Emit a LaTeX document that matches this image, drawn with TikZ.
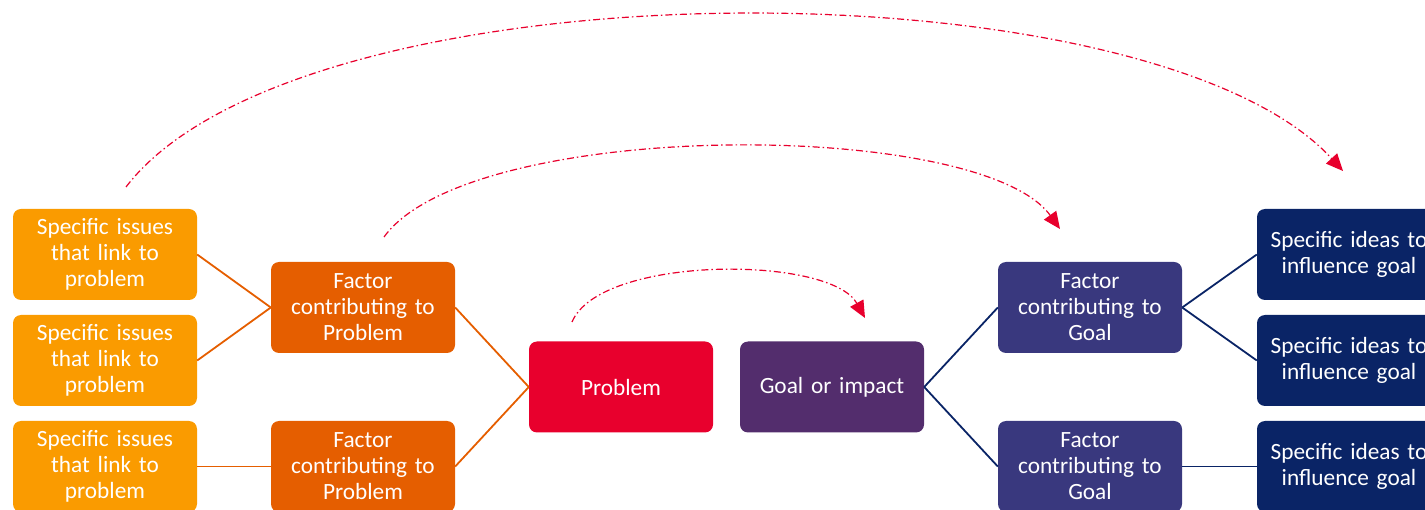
\documentclass[tikz,border=0pt]{standalone}
\usepackage{fontspec}
\setmainfont{Carlito}
\usetikzlibrary{arrows.meta}

\definecolor{issueorange}{RGB}{250,155,0}
\definecolor{factororange}{RGB}{229,94,0}
\definecolor{problemred}{RGB}{232,0,45}
\definecolor{goalpurple}{RGB}{83,45,109}
\definecolor{factorblue}{RGB}{57,56,126}
\definecolor{ideanavy}{RGB}{10,36,102}

\tikzset{
  box/.style={rounded corners=8pt, minimum width=184pt, minimum height=91pt,
    text width=180pt, align=center, inner sep=0pt, text=white,
    font=\fontsize{23.3}{26}\selectfont},
  issue/.style={box, fill=issueorange},
  pfactor/.style={box, fill=factororange},
  gfactor/.style={box, fill=factorblue},
  idea/.style={box, fill=ideanavy},
  pline/.style={draw=factororange, line width=1.8pt},
  gline/.style={draw=ideanavy, line width=1.8pt},
  link/.style={draw=problemred, line width=1.2pt,
    dash pattern=on 7pt off 3pt on 1.5pt off 3pt,
    -{Triangle[length=17pt,width=15pt]}}
}

\begin{document}
\begin{tikzpicture}[x=1pt,y=1pt,yscale=-1]
\useasboundingbox (0,0) rectangle (1425,510);

%Problem side
\node[issue] (iss1) at (105,254.5) {Specific issues\\that link to\\problem};
\node[issue] (iss2) at (105,360.5) {Specific issues\\that link to\\problem};
\node[issue] (iss3) at (105,466.5) {Specific issues\\that link to\\problem};
\node[pfactor] (pf1) at (363,307.5) {Factor\\contributing to\\Problem};
\node[pfactor] (pf2) at (363,466.5) {Factor\\contributing to\\Problem};
\node[box, fill=problemred] (prob) at (621,387) {Problem};

%Goal side
\node[box, fill=goalpurple] (goal) at (832,387) {Goal or impact};
\node[gfactor] (gf1) at (1090,307.5) {Factor\\contributing to\\Goal};
\node[gfactor] (gf2) at (1090,466.5) {Factor\\contributing to\\Goal};
\node[idea] (idea1) at (1349,254.5) {Specific ideas to\\influence goal};
\node[idea] (idea2) at (1349,360.5) {Specific ideas to\\influence goal};
\node[idea] (idea3) at (1349,466.5) {Specific ideas to\\influence goal};

%Straight Lines
\draw[pline] (iss1.east) -- (pf1.west);
\draw[pline] (iss2.east) -- (pf1.west);
\draw[pline] (iss3.east) -- (pf2.west);
\draw[pline] (pf1.east) -- (prob.west);
\draw[pline] (pf2.east) -- (prob.west);
\draw[gline] (goal.east) -- (gf1.west);
\draw[gline] (goal.east) -- (gf2.west);
\draw[gline] (gf1.east) -- (idea1.west);
\draw[gline] (gf1.east) -- (idea2.west);
\draw[gline] (gf2.east) -- (idea3.west);

%Curve Lines
\coordinate (outerA) at (126,187);
\coordinate (outerB) at (1343,171);
\coordinate (midA) at (384,237);
\coordinate (midB) at (1060,229);
\coordinate (innerA) at (572,322);
\coordinate (innerB) at (865,318);
\draw[link] (outerA) .. controls (300,-40) and (1150,-40) .. (outerB);
\draw[link] (midA) .. controls (470,118) and (980,118) .. (midB);
\draw[link] (innerA) .. controls (600,255) and (830,255) .. (innerB);

\end{tikzpicture}
\end{document}
